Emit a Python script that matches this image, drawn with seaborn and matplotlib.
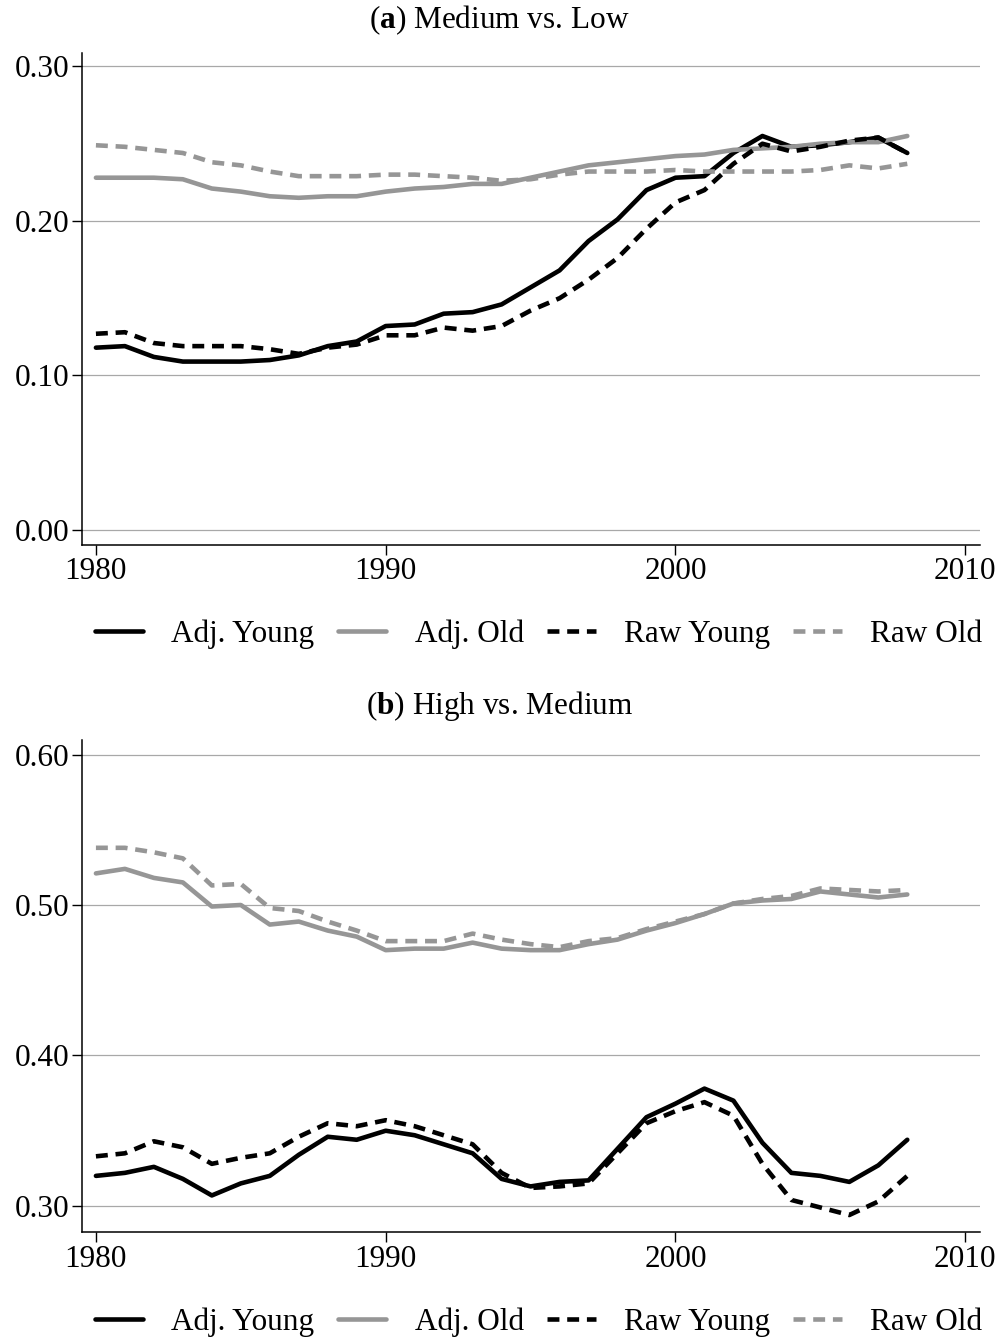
import numpy as np
import pandas as pd
import matplotlib
matplotlib.use("Agg")
import matplotlib.pyplot as plt
import seaborn as sns

years = list(range(1980, 2009))

# Panel (a): Medium vs. Low
a_adj_young = [0.118, 0.119, 0.112, 0.109, 0.109, 0.109, 0.110, 0.113, 0.119, 0.122,
               0.132, 0.133, 0.140, 0.141, 0.146, 0.157, 0.168, 0.187, 0.201, 0.220,
               0.228, 0.229, 0.244, 0.255, 0.248, 0.249, 0.251, 0.254, 0.244]
a_adj_old = [0.228, 0.228, 0.228, 0.227, 0.221, 0.219, 0.216, 0.215, 0.216, 0.216,
             0.219, 0.221, 0.222, 0.224, 0.224, 0.228, 0.232, 0.236, 0.238, 0.240,
             0.242, 0.243, 0.246, 0.247, 0.248, 0.250, 0.251, 0.251, 0.255]
a_raw_young = [0.127, 0.128, 0.121, 0.119, 0.119, 0.119, 0.117, 0.114, 0.118, 0.120,
               0.126, 0.126, 0.131, 0.129, 0.132, 0.142, 0.150, 0.162, 0.176, 0.195,
               0.212, 0.220, 0.237, 0.250, 0.245, 0.248, 0.252, 0.254, 0.244]
a_raw_old = [0.249, 0.248, 0.246, 0.244, 0.238, 0.236, 0.232, 0.229, 0.229, 0.229,
             0.230, 0.230, 0.229, 0.228, 0.226, 0.227, 0.230, 0.232, 0.232, 0.232,
             0.233, 0.232, 0.232, 0.232, 0.232, 0.233, 0.236, 0.234, 0.237]

# Panel (b): High vs. Medium
b_adj_young = [0.320, 0.322, 0.326, 0.318, 0.307, 0.315, 0.320, 0.334, 0.346, 0.344,
               0.350, 0.347, 0.341, 0.335, 0.318, 0.313, 0.316, 0.317, 0.338, 0.359,
               0.368, 0.378, 0.370, 0.342, 0.322, 0.320, 0.316, 0.327, 0.344]
b_adj_old = [0.521, 0.524, 0.518, 0.515, 0.499, 0.500, 0.487, 0.489, 0.483, 0.479,
             0.470, 0.471, 0.471, 0.475, 0.471, 0.470, 0.470, 0.474, 0.477, 0.483,
             0.488, 0.494, 0.501, 0.503, 0.504, 0.509, 0.507, 0.505, 0.507]
b_raw_young = [0.333, 0.335, 0.343, 0.339, 0.328, 0.332, 0.335, 0.346, 0.355, 0.353,
               0.357, 0.353, 0.347, 0.341, 0.322, 0.312, 0.313, 0.315, 0.335, 0.355,
               0.363, 0.369, 0.360, 0.328, 0.304, 0.299, 0.294, 0.303, 0.320]
b_raw_old = [0.538, 0.538, 0.535, 0.531, 0.513, 0.514, 0.498, 0.496, 0.489, 0.483,
             0.476, 0.476, 0.476, 0.481, 0.477, 0.474, 0.472, 0.476, 0.478, 0.484,
             0.489, 0.494, 0.501, 0.504, 0.506, 0.511, 0.510, 0.509, 0.510]

series_names = ["Adj. Young", "Adj. Old", "Raw Young", "Raw Old"]
panel_titles = ["Medium vs. Low", "High vs. Medium"]
panel_tags = ["a", "b"]
x_ticks = [1980, 1990, 2000, 2010]
a_yticks = [0.00, 0.10, 0.20, 0.30]
b_yticks = [0.30, 0.40, 0.50, 0.60]

sns.set_theme(style="white")
plt.rcParams["font.family"] = ["Liberation Serif", "DejaVu Serif"]
plt.rcParams["mathtext.fontset"] = "custom"
plt.rcParams["mathtext.rm"] = "Liberation Serif"
plt.rcParams["mathtext.bf"] = "Liberation Serif:bold"
for key in ["text.color", "axes.labelcolor", "xtick.color", "ytick.color"]:
    plt.rcParams[key] = "black"

BLACK = "#000000"
GRAY = "#969696"
styles = [
    (BLACK, "-"),
    (GRAY, "-"),
    (BLACK, (0, (2.6, 1.7))),
    (GRAY, (0, (2.6, 1.7))),
]
FS = 22.5

fig = plt.figure(figsize=(9.99, 13.39), dpi=100)
ax_a = fig.add_axes([0.0821, 0.5930, 0.8989, 0.3674])
ax_b = fig.add_axes([0.0821, 0.0799, 0.8989, 0.3674])

panels = [
    (ax_a, [a_adj_young, a_adj_old, a_raw_young, a_raw_old], a_yticks, (-0.0097, 0.3087)),
    (ax_b, [b_adj_young, b_adj_old, b_raw_young, b_raw_old], b_yticks, (0.2827, 0.6096)),
]

for ax, data, yticks, ylim in panels:
    for name, vals, (col, ls) in zip(series_names, data, styles):
        df = pd.DataFrame({"year": years, "value": vals})
        sns.lineplot(data=df, x="year", y="value", ax=ax, color=col, linestyle=ls,
                     linewidth=3.3, label=name, legend=False, solid_joinstyle="round")
    ax.set_xlim(1979.52, 2010.51)
    ax.set_ylim(*ylim)
    ax.set_xticks(x_ticks)
    ax.set_yticks(yticks)
    ax.set_yticklabels([f"{t:.2f}" for t in yticks])
    ax.set_xlabel("")
    ax.set_ylabel("")
    for y in yticks:
        ax.axhline(y, color="#a8a8a8", linewidth=0.9, zorder=0)
    ax.tick_params(axis="both", labelsize=FS, length=7, width=1.0, color="black",
                   labelcolor="black", direction="out", bottom=True, left=True, pad=2)
    for s in ["top", "right"]:
        ax.spines[s].set_visible(False)
    for s in ["left", "bottom"]:
        ax.spines[s].set_color("black")
        ax.spines[s].set_linewidth(1.1)

title_y = [1 - 20 / 1339, 1 - 706 / 1339]
legend_y = [1 - 634 / 1339, 1 - 1322 / 1339]
for ax, tag, title, ty, ly in zip([ax_a, ax_b], panel_tags, panel_titles, title_y, legend_y):
    fig.text(0.5, ty, r"($\mathbf{" + tag + r"}$) " + title, ha="center", va="center",
             fontsize=FS, color="black")
    handles, labels = ax.get_legend_handles_labels()
    leg = fig.legend(handles, labels, loc="center", bbox_to_anchor=(0.539, ly), ncol=4,
                     frameon=False, fontsize=FS, handlelength=1.55, handletextpad=0.9,
                     columnspacing=0.75, borderaxespad=0)
    for t in leg.get_texts():
        t.set_color("black")

fig.savefig("out.png", dpi=100)
